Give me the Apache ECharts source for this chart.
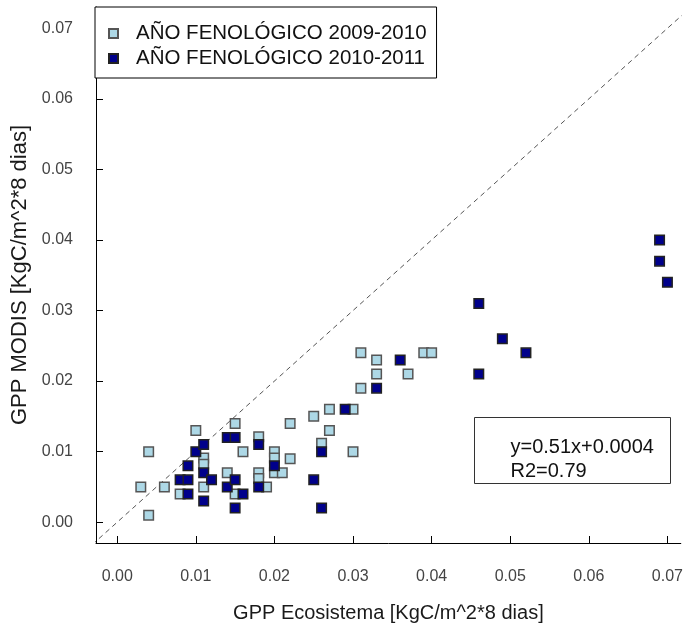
<!DOCTYPE html>
<html>
<head>
<meta charset="utf-8">
<script src="https://cdn.jsdelivr.net/npm/echarts@6/dist/echarts.min.js"></script>
<style>html,body{margin:0;padding:0;background:#fff;}#c{width:686px;height:628px;}</style>
</head>
<body>
<div id="c"></div>
<script>
// ---- data (GPP Ecosistema, GPP MODIS) ----
const seriesNames = ['AÑO FENOLÓGICO 2009-2010', 'AÑO FENOLÓGICO 2010-2011'];
const year0910 = [
  [0.003,0.005],[0.004,0.010],[0.004,0.001],[0.006,0.005],[0.008,0.004],
  [0.010,0.013],[0.011,0.0091],[0.011,0.0082],[0.011,0.005],[0.014,0.007],
  [0.015,0.014],[0.015,0.004],[0.016,0.010],[0.018,0.0121],[0.018,0.007],
  [0.018,0.0062],[0.019,0.005],[0.020,0.010],[0.020,0.0091],[0.020,0.007],
  [0.021,0.007],[0.022,0.014],[0.022,0.009],[0.025,0.015],[0.026,0.0112],
  [0.027,0.016],[0.027,0.013],[0.030,0.016],[0.030,0.010],[0.031,0.024],
  [0.031,0.019],[0.033,0.023],[0.033,0.021],[0.037,0.021],[0.039,0.024],
  [0.040,0.024]
];
const year1011 = [
  [0.008,0.006],[0.009,0.006],[0.009,0.008],[0.009,0.004],[0.010,0.010],
  [0.011,0.011],[0.011,0.007],[0.011,0.003],[0.012,0.006],[0.014,0.012],
  [0.015,0.012],[0.014,0.005],[0.015,0.006],[0.015,0.002],[0.016,0.004],
  [0.018,0.011],[0.018,0.005],[0.020,0.008],[0.025,0.006],[0.026,0.010],
  [0.026,0.002],[0.029,0.016],[0.033,0.019],[0.036,0.023],[0.046,0.031],
  [0.046,0.021],[0.049,0.026],[0.052,0.024],[0.069,0.040],[0.069,0.037],
  [0.070,0.034]
];
const identityLine = [[-0.01,-0.01],[0.08,0.08]];
const xTicks = [0.00,0.01,0.02,0.03,0.04,0.05,0.06,0.07];
const yTicks = [0.00,0.01,0.02,0.03,0.04,0.05,0.06,0.07];
const regressionText = ['y=0.51x+0.0004', 'R2=0.79'];
const xTitle = 'GPP Ecosistema [KgC/m^2*8 dias]';
const yTitle = 'GPP MODIS [KgC/m^2*8 dias]';

const FONT = '"Liberation Sans", Arial, sans-serif';
const chart = echarts.init(document.getElementById('c'), null, {renderer: 'canvas'});

const axisCommon = {
  type: 'value',
  interval: 0.01,
  axisLine: {show: true, onZero: false, lineStyle: {color: '#000', width: 1}},
  splitLine: {show: false},
  nameLocation: 'middle'
};

chart.setOption({
  animation: false,
  backgroundColor: '#fff',
  grid: {left: 96, right: 0, top: 7, bottom: 85, containLabel: false},
  xAxis: Object.assign({}, axisCommon, {
    min: -0.0027, max: 0.0717,
    name: xTitle, nameGap: 60,
    nameTextStyle: {fontFamily: FONT, color: '#1a1a1a', fontSize: 20},
    axisLabel: {
      margin: 26, fontFamily: FONT, fontSize: 16, color: '#444',
      customValues: xTicks,
      formatter: v => v.toFixed(2)
    },
    axisTick: {show: true, inside: true, length: 7, lineStyle: {color: '#000'}, customValues: xTicks}
  }),
  yAxis: Object.assign({}, axisCommon, {
    min: -0.00295, max: 0.07302,
    name: yTitle, nameGap: 58,
    nameTextStyle: {fontFamily: FONT, color: '#1a1a1a', fontSize: 22},
    axisLabel: {
      margin: 23, fontFamily: FONT, fontSize: 16, color: '#444',
      customValues: yTicks,
      formatter: v => v.toFixed(2)
    },
    axisTick: {show: true, inside: true, length: 7, lineStyle: {color: '#000'}, customValues: yTicks}
  }),
  legend: {
    left: 95, top: 7,
    orient: 'vertical',
    data: seriesNames,
    backgroundColor: '#fff',
    borderColor: '#000', borderWidth: 1,
    padding: [16, 10, 9, 13],
    itemWidth: 9, itemHeight: 9, itemGap: 4,
    formatter: n => '{g|}' + n,
    textStyle: {fontFamily: FONT, fontSize: 20.5, color: '#111', rich: {g: {width: 13}}}
  },
  series: [
    {
      type: 'line', data: identityLine, showSymbol: false, silent: true,
      lineStyle: {color: '#555', width: 1, type: [5, 4]}, clip: true,
      z: 1
    },
    {
      name: seriesNames[0], type: 'scatter', data: year0910,
      symbol: 'rect', symbolSize: 9.5,
      itemStyle: {color: '#ADD8E6', borderColor: '#555', borderWidth: 1.5, opacity: 1},
      z: 2
    },
    {
      name: seriesNames[1], type: 'scatter', data: year1011,
      symbol: 'rect', symbolSize: 9.5,
      itemStyle: {color: '#00008B', borderColor: '#222', borderWidth: 1.5, opacity: 1},
      z: 3
    }
  ],
  graphic: [{
    type: 'group', left: 474, top: 417,
    children: [
      {type: 'rect', shape: {x: 0, y: 0, width: 196, height: 66},
       style: {fill: '#fff', stroke: '#333', lineWidth: 1}},
      {type: 'text', left: 36, top: 18,
       style: {text: regressionText.join('\n'), font: '20px ' + FONT, fill: '#111', lineHeight: 24}}
    ]
  }]
});
</script>
</body>
</html>
